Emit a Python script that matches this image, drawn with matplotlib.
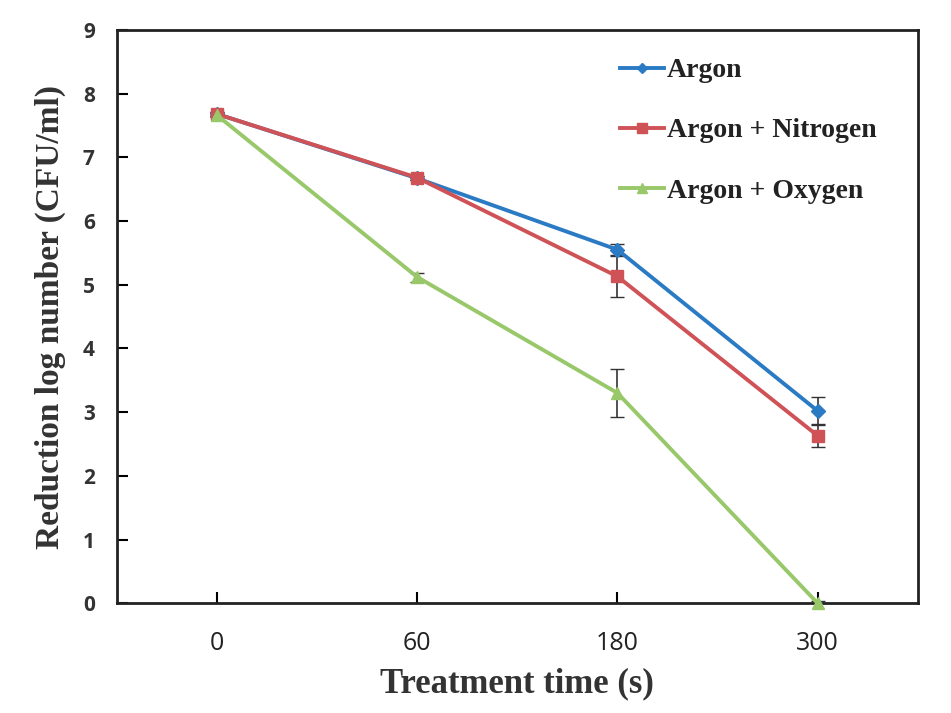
import numpy as np
import matplotlib.pyplot as plt

# datos
tiempos = ['0', '60', '180', '300']
argon = [7.68, 6.67, 5.55, 3.02]
argon_err = [0.03, 0.03, 0.09, 0.21]
argon_n2 = [7.68, 6.68, 5.13, 2.63]
argon_n2_err = [0.03, 0.03, 0.32, 0.17]
argon_o2 = [7.66, 5.12, 3.30, 0.0]
argon_o2_err = [0.03, 0.07, 0.38, 0.03]

x = np.arange(len(tiempos))

fig = plt.figure(figsize=(9.51, 7.13), dpi=100)
ax = fig.add_axes([0.123, 0.154, 0.842, 0.804])

series = [
    (argon, argon_err, '#2B7BC4', 'D', 7, 'Argon'),
    (argon_n2, argon_n2_err, '#CF5257', 's', 9, 'Argon + Nitrogen'),
    (argon_o2, argon_o2_err, '#98C86A', '^', 9, 'Argon + Oxygen'),
]
for y, err, c, m, ms, lab in series:
    ax.errorbar(x, y, yerr=err, fmt='none', ecolor='#333333', elinewidth=1.2,
                capsize=5, zorder=2)
    ax.plot(x, y, color=c, marker=m, markersize=ms, linewidth=2.8, label=lab,
            zorder=3, clip_on=False)

ax.set_xlim(-0.5, 3.5)
ax.set_ylim(0, 9)
ax.set_xticks(x)
ax.set_xticklabels(tiempos, fontsize=18, family='Open Sans', color='#222222')
ax.set_yticks(range(0, 10))
for lbl in ax.get_yticklabels():
    lbl.set_fontsize(15)
    lbl.set_fontweight('bold')
    lbl.set_family('Open Sans')
    lbl.set_color('#333333')
ax.tick_params(direction='in', length=8, width=1.5, pad=16)
ax.tick_params(axis='x', pad=20)
for s in ax.spines.values():
    s.set_linewidth(2)
    s.set_color('#222222')

ax.set_xlabel('Treatment time (s)', fontsize=25, fontweight='bold',
              family='Liberation Serif', color='#333333', labelpad=8)
ax.set_ylabel('Reduction log number (CFU/ml)', fontsize=24, fontweight='bold',
              family='Liberation Serif', color='#333333', labelpad=12)

leg = ax.legend(loc='upper left', frameon=False, handlelength=1.6, handletextpad=0.1,
                labelspacing=1.25, bbox_to_anchor=(0.597, 0.995), markerscale=0.8,
                prop={'family': 'Liberation Serif', 'weight': 'bold', 'size': 20})
for t in leg.get_texts():
    t.set_color('#222222')

plt.savefig('out.png', dpi=100)
